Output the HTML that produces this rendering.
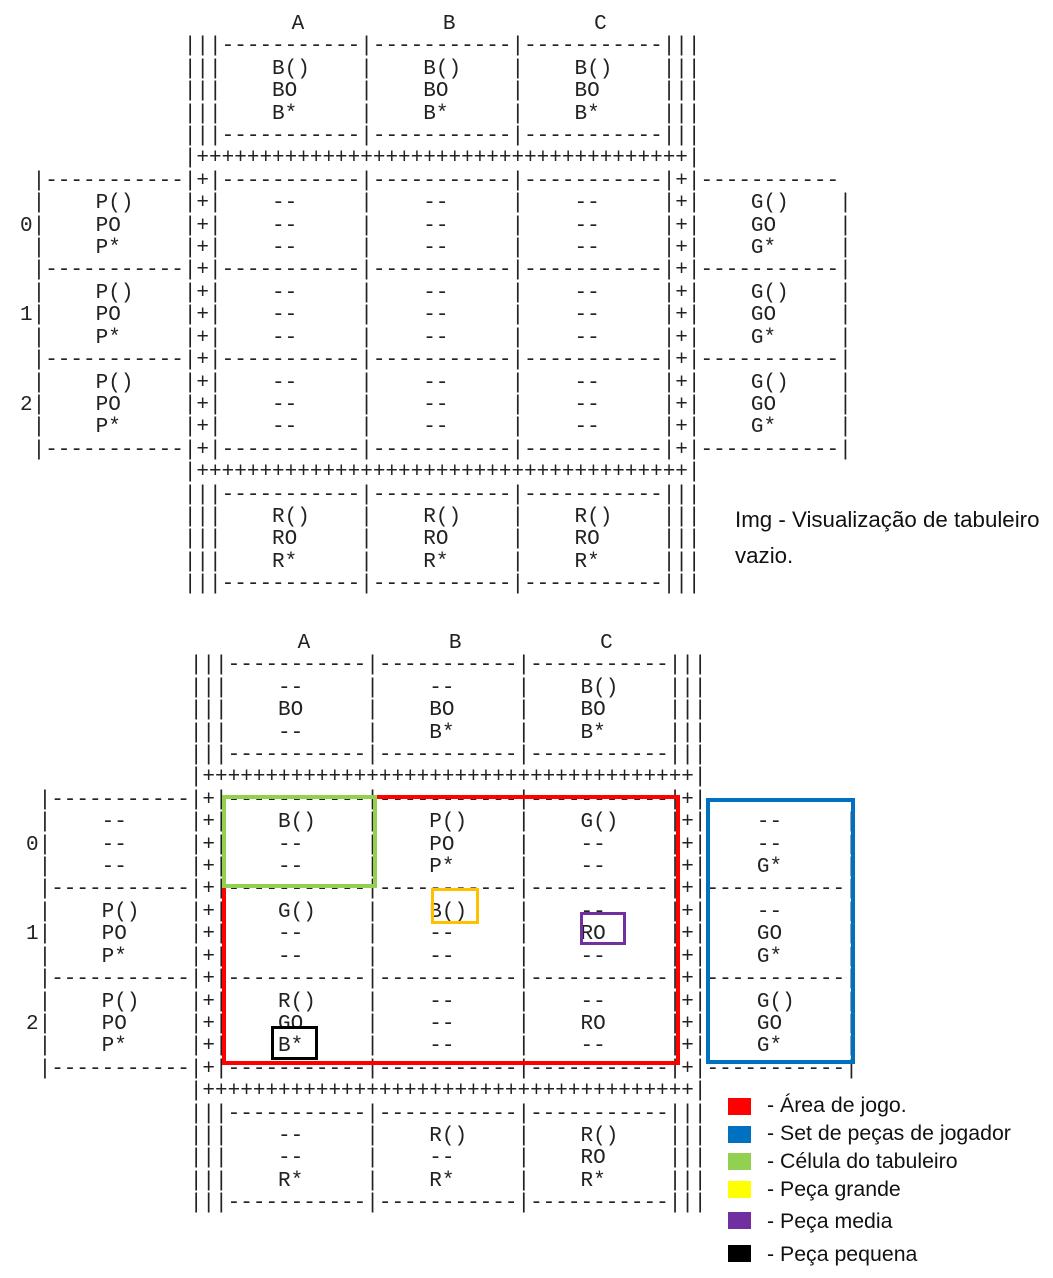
<!DOCTYPE html>
<html><head><meta charset="utf-8"><style>
body{margin:0;width:1053px;height:1278px;background:#fff;position:relative;overflow:hidden}
pre{position:absolute;margin:0;font-family:"Liberation Mono",monospace;font-size:21px;line-height:22.4px;color:#222}
.b{position:absolute;box-sizing:border-box}
.t{position:absolute;font-family:"Liberation Sans",sans-serif;font-size:21.3px;color:#111;white-space:nowrap}
.sq{position:absolute;left:728px;width:23px;height:17px}
</style></head><body>
<pre style="left:20px;top:14px">                     <span style="position:relative;left:7px">A           B           C</span>
             |||-----------|-----------|-----------|||
             |||    B()    |    B()    |    B()    |||
             |||    BO     |    BO     |    BO     |||
             |||    B*     |    B*     |    B*     |||
             |||-----------|-----------|-----------|||
             |+++++++++++++++++++++++++++++++++++++++|
 |-----------|+|-----------|-----------|-----------|+|-----------
 |    P()    |+|    --     |    --     |    --     |+|    G()    |
0|    PO     |+|    --     |    --     |    --     |+|    GO     |
 |    P*     |+|    --     |    --     |    --     |+|    G*     |
 |-----------|+|-----------|-----------|-----------|+|-----------|
 |    P()    |+|    --     |    --     |    --     |+|    G()    |
1|    PO     |+|    --     |    --     |    --     |+|    GO     |
 |    P*     |+|    --     |    --     |    --     |+|    G*     |
 |-----------|+|-----------|-----------|-----------|+|-----------|
 |    P()    |+|    --     |    --     |    --     |+|    G()    |
2|    PO     |+|    --     |    --     |    --     |+|    GO     |
 |    P*     |+|    --     |    --     |    --     |+|    G*     |
 |-----------|+|-----------|-----------|-----------|+|-----------|
             |+++++++++++++++++++++++++++++++++++++++|
             |||-----------|-----------|-----------|||
             |||    R()    |    R()    |    R()    |||
             |||    RO     |    RO     |    RO     |||
             |||    R*     |    R*     |    R*     |||
             |||-----------|-----------|-----------|||</pre>

<pre style="left:26px;top:633px">                     <span style="position:relative;left:7px">A           B           C</span>
             |||-----------|-----------|-----------|||
             |||    --     |    --     |    B()    |||
             |||    BO     |    BO     |    BO     |||
             |||    --     |    B*     |    B*     |||
             |||-----------|-----------|-----------|||
             |+++++++++++++++++++++++++++++++++++++++|
 |-----------|+|-----------|-----------|-----------|+|-----------
 |    --     |+|    B()    |    P()    |    G()    |+|    --     |
0|    --     |+|    --     |    PO     |    --     |+|    --     |
 |    --     |+|    --     |    P*     |    --     |+|    G*     |
 |-----------|+|-----------|-----------|-----------|+|-----------|
 |    P()    |+|    G()    |    B()    |    --     |+|    --     |
1|    PO     |+|    --     |    --     |    RO     |+|    GO     |
 |    P*     |+|    --     |    --     |    --     |+|    G*     |
 |-----------|+|-----------|-----------|-----------|+|-----------|
 |    P()    |+|    R()    |    --     |    --     |+|    G()    |
2|    PO     |+|    GO     |    --     |    RO     |+|    GO     |
 |    P*     |+|    B*     |    --     |    --     |+|    G*     |
 |-----------|+|-----------|-----------|-----------|+|-----------|
             |+++++++++++++++++++++++++++++++++++++++|
             |||-----------|-----------|-----------|||
             |||    --     |    R()    |    R()    |||
             |||    --     |    --     |    RO     |||
             |||    R*     |    R*     |    R*     |||
             |||-----------|-----------|-----------|||</pre>

<div class="b" style="left:222px;top:795px;width:458px;height:270px;border:4px solid #ff0000"></div>
<div class="b" style="left:222px;top:795px;width:155px;height:93px;border:4px solid #92d050"></div>
<div class="b" style="left:431px;top:888px;width:48px;height:36px;border:3px solid #ffc000"></div>
<div class="b" style="left:580px;top:912px;width:46px;height:33px;border:3px solid #7030a0"></div>
<div class="b" style="left:271px;top:1026px;width:47px;height:34px;border:3px solid #000"></div>
<div class="b" style="left:706px;top:798px;width:149px;height:266px;border:4px solid #0070c0"></div>

<div class="t" style="left:735px;top:507px;font-size:22.3px">Img - Visualização de tabuleiro</div>
<div class="t" style="left:735px;top:543px;font-size:22.3px">vazio.</div>

<div class="sq" style="top:1098px;background:#ff0000"></div>
<div class="sq" style="top:1126px;background:#0070c0"></div>
<div class="sq" style="top:1153px;background:#92d050"></div>
<div class="sq" style="top:1181px;background:#ffff00"></div>
<div class="sq" style="top:1212px;background:#7030a0"></div>
<div class="sq" style="top:1245px;background:#000"></div>
<div class="t" style="left:767px;top:1093px">- Área de jogo.</div>
<div class="t" style="left:767px;top:1121px">- Set de peças de jogador</div>
<div class="t" style="left:767px;top:1149px">- Célula do tabuleiro</div>
<div class="t" style="left:767px;top:1177px">- Peça grande</div>
<div class="t" style="left:767px;top:1209px">- Peça media</div>
<div class="t" style="left:767px;top:1242px">- Peça pequena</div>
</body></html>
